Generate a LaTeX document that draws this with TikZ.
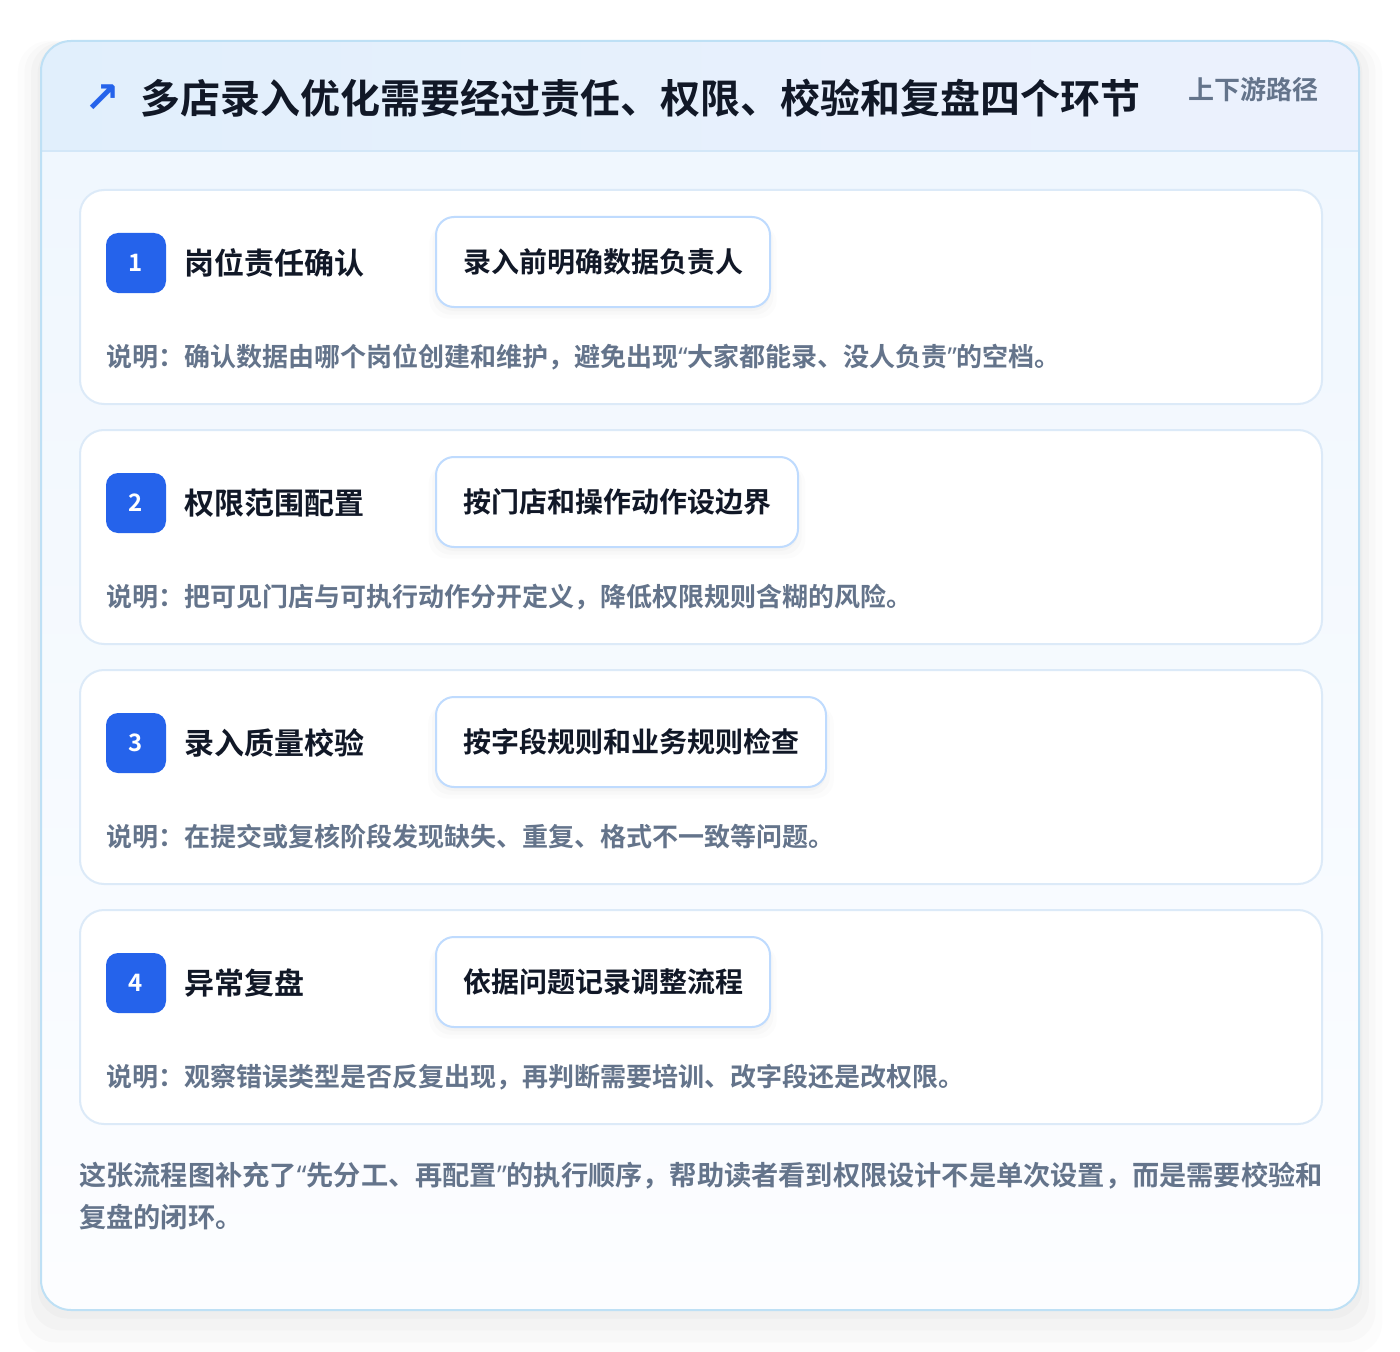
\documentclass[tikz,border=0pt]{standalone}
\usepackage{fontspec}
\setmainfont{Noto Sans CJK SC}[BoldFont={Noto Sans CJK SC Bold}]
\newfontfamily\symfont{DejaVu Sans}
\newfontfamily\quotefont{Noto Sans}
\usepackage{xcolor}
\usetikzlibrary{positioning,shadows}

\newcommand{\qopen}{{\quotefont “}}
\newcommand{\qclose}{{\quotefont ”}}

\definecolor{frameline}{HTML}{BEE0F5}
\definecolor{headleft}{HTML}{E1EFFC}
\definecolor{headright}{HTML}{ECF1FD}
\definecolor{headrule}{HTML}{D3E7F8}
\definecolor{bodytop}{HTML}{F0F7FE}
\definecolor{bodybottom}{HTML}{FCFDFF}
\definecolor{cardline}{HTML}{DCEAF8}
\definecolor{pillline}{HTML}{BFDBFE}
\definecolor{badgeblue}{HTML}{2563EB}
\definecolor{inkdark}{HTML}{111827}
\definecolor{inkgray}{HTML}{64748B}

\begin{document}
\begin{tikzpicture}[x=0.75pt,y=-0.75pt,
    softshadow/.style={
      drop shadow={shadow xshift=0pt, shadow yshift=-3pt, shadow scale=1.00, opacity=0.035},
      drop shadow={shadow xshift=0pt, shadow yshift=-5pt, shadow scale=1.02, opacity=0.03},
      drop shadow={shadow xshift=0pt, shadow yshift=-7pt, shadow scale=1.04, opacity=0.025}},
    cardbox/.style={draw=cardline, line width=1.5pt, fill=white, rounded corners=18pt,
      minimum width=931.5pt, minimum height=160.5pt, inner sep=0pt, anchor=north west},
    badge/.style={fill=badgeblue, text=white, rounded corners=9pt, minimum size=45pt,
      inner sep=0pt, font=\bfseries\fontsize{18}{18}\selectfont},
    steptitle/.style={text=inkdark, inner sep=0pt, anchor=west, font=\bfseries\fontsize{22.5}{22.5}\selectfont},
    pill/.style={draw=pillline, line width=1.5pt, fill=white, rounded corners=13.5pt,
      minimum height=67.5pt, inner xsep=20.25pt, anchor=west, text=inkdark,
      font=\bfseries\fontsize{21}{21}\selectfont, softshadow},
    note/.style={text=inkgray, inner sep=0pt, anchor=west, font=\bfseries\fontsize{19.5}{19.5}\selectfont}]

    \useasboundingbox[fill=white] (0,0) rectangle (1400,1352);

    % outer card with soft shadow
    \path[fill=white, rounded corners=22.5pt,
      drop shadow={shadow xshift=0pt, shadow yshift=-4pt, shadow scale=1.005, opacity=0.04},
      drop shadow={shadow xshift=0pt, shadow yshift=-8pt, shadow scale=1.015, opacity=0.035},
      drop shadow={shadow xshift=0pt, shadow yshift=-12pt, shadow scale=1.025, opacity=0.03},
      drop shadow={shadow xshift=0pt, shadow yshift=-16pt, shadow scale=1.035, opacity=0.02}]
      (41,41) rectangle (1359,1310);
    \begin{scope}
        \clip[rounded corners=22.5pt] (41,41) rectangle (1359,1310);
        \fill[top color=bodytop, bottom color=bodybottom] (41,151) rectangle (1359,1310);
        \fill[left color=headleft, right color=headright] (41,41) rectangle (1359,151);
        \draw[headrule, line width=1.5pt] (41,151) -- (1359,151);
    \end{scope}
    \draw[frameline, line width=1.5pt, rounded corners=22.5pt] (41,41) rectangle (1359,1310);

    % header
    \node[text=badgeblue, inner sep=0pt, font=\symfont\bfseries\fontsize{32}{32}\selectfont] (icon) at (102,99) {↗};
    \node[text=inkdark, inner sep=0pt, anchor=west, font=\bfseries\fontsize{30}{30}\selectfont] (title) at (140,98)
      {多店录入优化需要经过责任、权限、校验和复盘四个环节};
    \node[text=inkgray, inner sep=0pt, anchor=west, font=\bfseries\fontsize{19.5}{19.5}\selectfont] (tag) at (1188,90) {上下游路径};

    % step 1
    \node[cardbox] (card1) at (79,189) {};
    \node[badge] (num1) at (136,263) {1};
    \node[steptitle, right=13.5pt of num1] (title1) {岗位责任确认};
    \node[pill] (pill1) at (435,262) {录入前明确数据负责人};
    \node[note] (note1) at (106,357) {说明：确认数据由哪个岗位创建和维护，避免出现\qopen 大家都能录、没人负责\qclose 的空档。};

    % step 2
    \node[cardbox] (card2) at (79,429) {};
    \node[badge] (num2) at (136,503) {2};
    \node[steptitle, right=13.5pt of num2] (title2) {权限范围配置};
    \node[pill] (pill2) at (435,502) {按门店和操作动作设边界};
    \node[note] (note2) at (106,597) {说明：把可见门店与可执行动作分开定义，降低权限规则含糊的风险。};

    % step 3
    \node[cardbox] (card3) at (79,669) {};
    \node[badge] (num3) at (136,743) {3};
    \node[steptitle, right=13.5pt of num3] (title3) {录入质量校验};
    \node[pill] (pill3) at (435,742) {按字段规则和业务规则检查};
    \node[note] (note3) at (106,837) {说明：在提交或复核阶段发现缺失、重复、格式不一致等问题。};

    % step 4
    \node[cardbox] (card4) at (79,909) {};
    \node[badge] (num4) at (136,983) {4};
    \node[steptitle, right=13.5pt of num4] (title4) {异常复盘};
    \node[pill] (pill4) at (435,982) {依据问题记录调整流程};
    \node[note] (note4) at (106,1077) {说明：观察错误类型是否反复出现，再判断需要培训、改字段还是改权限。};

    % closing remark
    \node[text=inkgray, inner sep=0pt, anchor=west, align=left, font=\bfseries\fontsize{20.4}{31.5}\selectfont] (summary) at (79,1196)
      {这张流程图补充了\qopen 先分工、再配置\qclose 的执行顺序，帮助读者看到权限设计不是单次设置，而是需要校验和\\复盘的闭环。};
\end{tikzpicture}
\end{document}
